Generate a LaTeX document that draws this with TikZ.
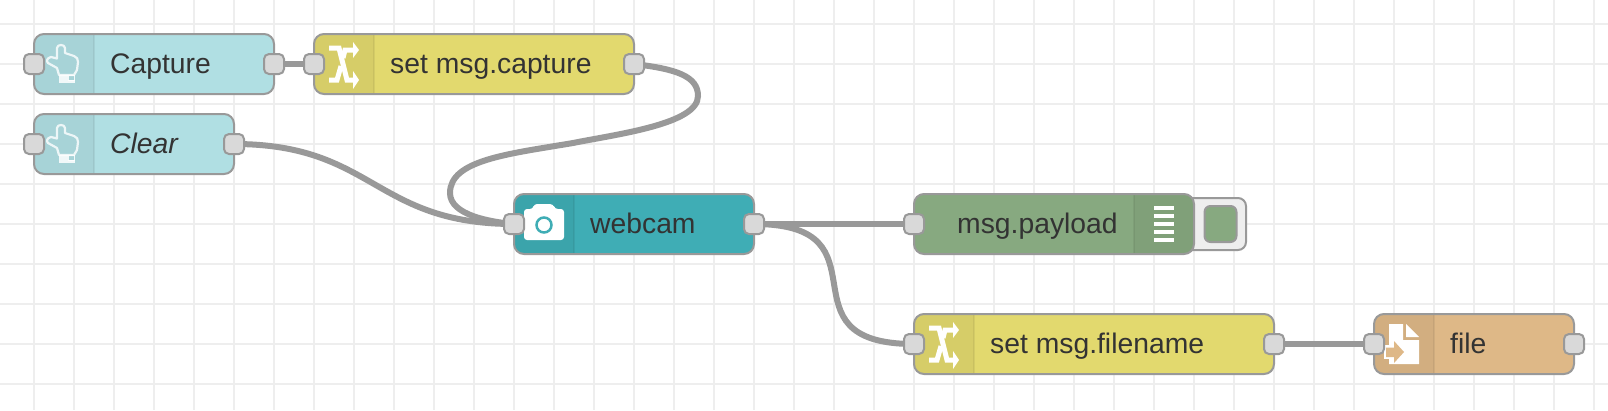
\documentclass[tikz,border=0pt]{standalone}
\usepackage{fontspec}
\setmainfont{Liberation Sans}
\definecolor{gridc}{HTML}{EEEEEE}
\definecolor{edgec}{HTML}{999999}
\definecolor{portc}{HTML}{D9D9D9}
\definecolor{txtc}{HTML}{333333}
\definecolor{injc}{HTML}{B0DFE3}
\definecolor{chgc}{HTML}{E2D96E}
\definecolor{camc}{HTML}{3FADB5}
\definecolor{dbgc}{HTML}{87A980}
\definecolor{filc}{HTML}{DEB887}
\tikzset{
  box/.style={draw=edgec,line width=2pt,rounded corners=10pt,inner sep=0pt,outer sep=0pt,minimum height=60pt},
  hdrleft/.style={path picture={
    \fill[black,opacity=.05,sharp corners] (path picture bounding box.south west) rectangle ([xshift=60pt]path picture bounding box.north west);
    \fill[black,opacity=.06,sharp corners] ([xshift=59pt]path picture bounding box.south west) rectangle ([xshift=61pt]path picture bounding box.north west);}},
  hdrright/.style={path picture={
    \fill[black,opacity=.05,sharp corners] (path picture bounding box.south east) rectangle ([xshift=-60pt]path picture bounding box.north east);
    \fill[black,opacity=.06,sharp corners] ([xshift=-59pt]path picture bounding box.south east) rectangle ([xshift=-61pt]path picture bounding box.north east);}},
  port/.style={draw=edgec,fill=portc,line width=2pt,rounded corners=5pt,minimum width=20pt,minimum height=20pt,inner sep=0pt,outer sep=0pt},
  wire/.style={draw=edgec,line width=6pt},
  lab/.style={anchor=base west,inner sep=0pt,text=txtc,font=\fontsize{28.3pt}{34pt}\selectfont},
  shuffle/.pic={
    \draw[white,line width=5pt] (15,-16) -- (25,-16) -- (33,16) -- (40,16);
    \draw[white,line width=5pt] (15,16) -- (23,16) -- (27,2);
    \draw[white,line width=5pt] (29,-6) -- (31,-14) -- (40,-14);
    \fill[white] (39,-22) -- (45,-14) -- (39,-6) -- cycle;
    \fill[white] (39,7) -- (45,16) -- (39,25) -- cycle;
  },
  hand/.pic={
    \draw[white,opacity=.8,line width=2.2pt,line join=round]
      (23,-16) .. controls (23,-20) and (31,-20) .. (31,-16) -- (31,-11) -- (40,-8)
      .. controls (43,-7) and (44,-5) .. (44,-2) -- (43,6) -- (40,11) -- (25,11) -- (23,4) -- (14,-1)
      .. controls (12,-3) and (13,-6) .. (17,-7) -- (23,-5.5) -- cycle;
    \fill[white,opacity=.85] (25,11) rectangle (34,19);
    \fill[white,opacity=.85] (34,15.5) rectangle (41,19);
    \draw[white,opacity=.85,line width=1pt] (34,11.5) rectangle (40.5,16);
  },
  camera/.pic={
    \fill[white,rounded corners=3pt] (10,-15) -- (19,-15) -- (20,-20) -- (39,-20) -- (41,-15) -- (50,-15) -- (50,16) -- (10,16) -- cycle;
    \draw[camc,fill=white,line width=2.5pt] (30,1) circle (7.5);
  },
  listicon/.pic={
    \foreach \yy in {-16,-8,0,8,16} \fill[white] (-40,\yy-1.7) rectangle (-20,\yy+1.7);
  },
  fileicon/.pic={
    \fill[white] (15,-20) -- (29,-20) -- (29,-4) -- (45,-4) -- (45,20) -- (15,20) -- cycle;
    \fill[white] (32,-20) -- (45,-7) -- (32,-7) -- cycle;
    \fill[white] (10,1) rectangle (20,15);
    \fill[filc] (12,3.5) -- (20,3.5) -- (20,-3) -- (30,8) -- (20,19) -- (20,13) -- (12,13) -- cycle;
  },
}
\begin{document}
\begin{tikzpicture}[x=1pt,y=-1pt]
\useasboundingbox (0,0) rectangle (1608,410);
\fill[white] (0,0) rectangle (1608,410);
\foreach \gx in {34,74,...,1594} \draw[gridc,line width=2pt] (\gx,0) -- (\gx,410);
\foreach \gy in {24,64,...,384} \draw[gridc,line width=2pt] (0,\gy) -- (1608,\gy);

% debug button
\node[box,fill=gridc,minimum width=76pt,minimum height=52pt,rounded corners=8pt] (btn) at (1208,224) {};
\node[draw=edgec,fill=dbgc,line width=2pt,rounded corners=6pt,minimum width=32pt,minimum height=36pt,inner sep=0pt] (btnin) at (1220.5,224) {};

% node bodies
\node[box,hdrleft,fill=injc,minimum width=240pt] (cap) at (154,64) {};
\node[box,hdrleft,fill=injc,minimum width=200pt] (clr) at (134,144) {};
\node[box,hdrleft,fill=chgc,minimum width=320pt] (setc) at (474,64) {};
\node[box,hdrleft,fill=camc,minimum width=240pt] (cam) at (634,224) {};
\node[box,hdrright,fill=dbgc,minimum width=280pt] (dbg) at (1054,224) {};
\node[box,hdrleft,fill=chgc,minimum width=360pt] (setf) at (1094,344) {};
\node[box,hdrleft,fill=filc,minimum width=200pt] (fil) at (1474,344) {};

% icons
\pic at (cap.west) {hand};
\pic at (clr.west) {hand};
\pic at (setc.west) {shuffle};
\pic at (cam.west) {camera};
\pic at (dbg.east) {listicon};
\pic at (setf.west) {shuffle};
\pic at (fil.west) {fileicon};

% labels
\node[lab] (tcap) at (110,73) {Capture};
\node[lab] (tclr) at (110,153) {\itshape Clear};
\node[lab] (tsetc) at (390,73) {set msg.capture};
\node[lab] (tcam) at (590,233) {webcam};
\node[lab] (tdbg) at (957,233) {msg.payload};
\node[lab] (tsetf) at (990,353) {set msg.filename};
\node[lab] (tfil) at (1450,353) {file};

\coordinate (w1) at (698,96);
\coordinate (w2) at (573,143);
\coordinate (w3) at (450,193);

% wires
\draw[wire] (cap.east) -- (setc.west);
\draw[wire] (clr.east) .. controls +(140,0) and +(-140,0) .. (cam.west);
\draw[wire] (setc.east) .. controls +(42,5) and +(0,-20) .. (w1)
  .. controls +(0,28) and +(45,-9) .. (w2)
  .. controls +(-65,11) and +(0,-33) .. (w3)
  .. controls +(0,22) and +(-24,-2) .. (cam.west);
\draw[wire] (cam.east) -- (dbg.west);
\draw[wire] (cam.east) .. controls +(140,0) and +(-140,0) .. (setf.west);
\draw[wire] (setf.east) -- (fil.west);

% ports
\node[port] (capi) at (cap.west) {};
\node[port] (capo) at (cap.east) {};
\node[port] (clri) at (clr.west) {};
\node[port] (clro) at (clr.east) {};
\node[port] (setci) at (setc.west) {};
\node[port] (setco) at (setc.east) {};
\node[port] (cami) at (cam.west) {};
\node[port] (camo) at (cam.east) {};
\node[port] (dbgi) at (dbg.west) {};
\node[port] (setfi) at (setf.west) {};
\node[port] (setfo) at (setf.east) {};
\node[port] (fili) at (fil.west) {};
\node[port] (filo) at (fil.east) {};
\end{tikzpicture}
\end{document}
